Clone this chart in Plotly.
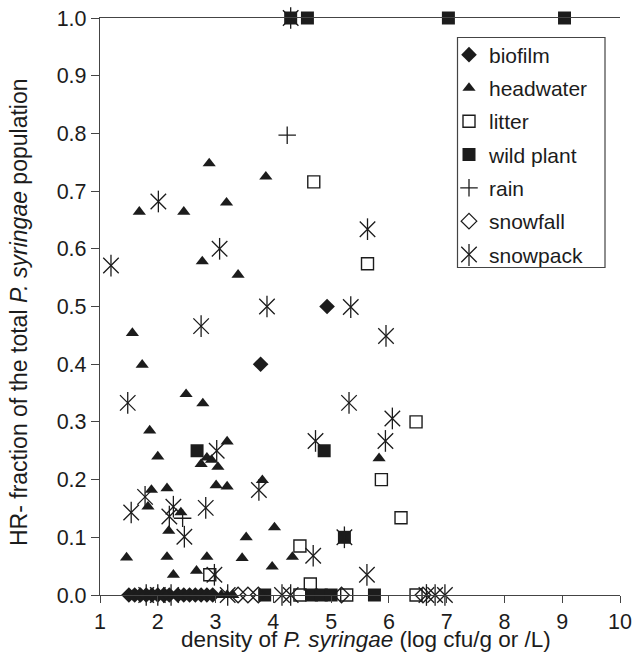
import plotly.graph_objects as go

# ---------------- data ----------------
biofilm_x = [3.78, 4.93, 1.50, 1.60, 1.70, 1.80, 1.90, 2.00, 2.10, 2.20, 2.35, 2.45, 2.55, 2.65, 2.75, 2.85, 2.95]
biofilm_y = [0.40, 0.50, 0, 0, 0, 0, 0, 0, 0, 0, 0, 0, 0, 0, 0, 0, 0]

headwater_x = [1.56, 1.73, 2.49, 2.78, 1.86, 3.20, 2.00, 2.85, 2.93, 2.75, 3.04, 3.81, 3.01, 3.20,
               1.89, 2.16, 1.83, 2.40, 2.19, 3.53, 4.02, 1.46, 2.16, 2.85, 3.46, 4.33, 2.27, 2.67,
               3.98, 2.89, 3.87, 3.19, 1.68, 2.45, 2.77, 3.39, 5.83, 3.10, 3.20, 3.30]
headwater_y = [0.454, 0.399, 0.348, 0.332, 0.285, 0.266, 0.240, 0.238, 0.234, 0.227, 0.222, 0.199, 0.190, 0.188,
               0.182, 0.185, 0.153, 0.143, 0.111, 0.100, 0.117, 0.065, 0.066, 0.066, 0.064, 0.066, 0.035, 0.042,
               0.049, 0.748, 0.725, 0.680, 0.664, 0.664, 0.578, 0.555, 0.237, 0, 0, 0]

litter_x = [4.70, 5.63, 6.47, 5.87, 6.21, 4.46, 4.64, 2.90, 4.46, 5.27, 6.47]
litter_y = [0.716, 0.574, 0.300, 0.200, 0.134, 0.085, 0.019, 0.035, 0, 0, 0]

wildplant_x = [2.68, 4.88, 5.23, 4.30, 4.59, 7.03, 9.04, 3.85, 4.66, 4.83, 5.00, 5.75]
wildplant_y = [0.25, 0.25, 0.10, 1.0, 1.0, 1.0, 1.0, 0, 0, 0, 0, 0]

rain_x = [4.24, 2.43]
rain_y = [0.797, 0.133]

snowfall_x = [3.39, 3.56, 3.74, 5.18, 6.59]
snowfall_y = [0, 0, 0, 0, 0]

snowpack_x = [3.89, 2.75, 1.48, 3.02, 3.75, 1.78, 1.54, 2.27, 2.20, 2.83, 2.46, 2.98, 2.01, 3.07,
              1.19, 5.63, 5.34, 5.95, 5.31, 6.06, 4.73, 5.94, 5.23, 4.69, 5.62, 4.30,
              1.80, 2.00, 2.23, 3.21, 4.15, 4.30, 6.65, 6.80, 6.97]
snowpack_y = [0.500, 0.466, 0.333, 0.250, 0.182, 0.170, 0.143, 0.153, 0.136, 0.151, 0.101, 0.035, 0.682, 0.600,
              0.571, 0.634, 0.499, 0.449, 0.333, 0.306, 0.267, 0.267, 0.100, 0.068, 0.035, 1.0,
              0, 0, 0, 0, 0, 0, 0, 0, 0]

x_ticks = [1, 2, 3, 4, 5, 6, 7, 8, 9, 10]
y_ticks = [0.0, 0.1, 0.2, 0.3, 0.4, 0.5, 0.6, 0.7, 0.8, 0.9, 1.0]
y_ticklabels = ["%.1f" % v for v in y_ticks]

# ---------------- style ----------------
INK = "#1c1c1c"
AX = "#444"
FONT = "Liberation Sans, Arial, sans-serif"
W, H = 635, 659
L, R, T, B = 100, 15, 18, 64
PW, PH = W - L - R, H - T - B


def px2paper(px, py):
    return (px - L) / PW, 1 - (py - T) / PH


fig = go.Figure()


def add(name, xs, ys, symbol, size, lw=1.3, group=None, showlegend=True):
    fig.add_trace(go.Scatter(
        x=xs, y=ys, mode="markers", name=name,
        legendgroup=group or name, showlegend=showlegend,
        cliponaxis=False, hoverinfo="skip",
        marker=dict(symbol=symbol, size=size, color=INK,
                    line=dict(color=INK, width=lw)),
    ))


add("biofilm", biofilm_x, biofilm_y, "diamond", 12, 0)
add("headwater", headwater_x, headwater_y, "triangle-up", 11.5, 0)
add("litter", litter_x, litter_y, "square-open", 12, 1.4)
add("wild plant", wildplant_x, wildplant_y, "square", 13, 0)
add("rain", rain_x, rain_y, "cross-thin-open", 12.5, 1.3)
add("snowfall", snowfall_x, snowfall_y, "diamond-open", 12, 1.3)
add("snowpack", snowpack_x, snowpack_y, "x-thin-open", 15.5, 1.3)
add("snowpack", snowpack_x, snowpack_y, "line-ns-open", 15.5, 1.3, group="snowpack", showlegend=False)

# legend frame + vertical bar of the snowpack legend symbol
lx0, ly0 = px2paper(457.5, 37.5)
lx1, ly1 = px2paper(605, 267.5)
sx, sy0 = px2paper(469, 244)
_, sy1 = px2paper(469, 266)
shapes = [
    dict(type="rect", xref="paper", yref="paper", x0=lx0, y0=ly1, x1=lx1, y1=ly0,
         line=dict(color=AX, width=1.2), fillcolor="rgba(0,0,0,0)", layer="above"),
    dict(type="line", xref="paper", yref="paper", x0=sx, y0=sy0, x1=sx, y1=sy1,
         line=dict(color=INK, width=1.3), layer="above"),
]

legx, legy = px2paper(449, 34.5)

annotations = [
    dict(text="density of <i>P. syringae</i> (log cfu/g or /L)", xref="paper", yref="paper",
         x=px2paper(366, 0)[0], y=px2paper(0, 639)[1], xanchor="center", yanchor="middle",
         showarrow=False, font=dict(family=FONT, size=22.5, color=INK)),
    dict(text="HR- fraction of the total <i>P. syringae</i> population", xref="paper", yref="paper",
         x=px2paper(19, 0)[0], y=px2paper(0, 312)[1], xanchor="center", yanchor="middle",
         textangle=-90, showarrow=False, font=dict(family=FONT, size=23, color=INK)),
]

fig.update_layout(
    width=W, height=H,
    margin=dict(l=L, r=R, t=T, b=B, autoexpand=False),
    paper_bgcolor="white", plot_bgcolor="white",
    font=dict(family=FONT, size=21, color=INK),
    shapes=shapes, annotations=annotations,
    hovermode=False,
    legend=dict(x=legx, y=legy, xanchor="left", yanchor="top",
                bgcolor="rgba(0,0,0,0)", borderwidth=0,
                font=dict(family=FONT, size=21, color=INK),
                traceorder="grouped", tracegroupgap=3, itemwidth=30),
    xaxis=dict(range=[1, 10], tickvals=x_ticks, ticktext=[str(v) for v in x_ticks],
               showgrid=False, zeroline=False, showline=True, linecolor=AX, linewidth=1.3,
               mirror=True, ticks="outside", ticklen=7, tickcolor=AX, tickwidth=1.3,
               tickfont=dict(family=FONT, size=21.5, color=INK)),
    yaxis=dict(range=[0, 1], tickvals=y_ticks, ticktext=y_ticklabels,
               showgrid=False, zeroline=False, showline=True, linecolor=AX, linewidth=1.3,
               ticks="outside", ticklen=8, tickcolor=AX, tickwidth=1.3,
               tickfont=dict(family=FONT, size=21.5, color=INK)),
)

fig.write_html("out.html", config={"displayModeBar": False},
               post_script="document.body.style.margin='0';")
